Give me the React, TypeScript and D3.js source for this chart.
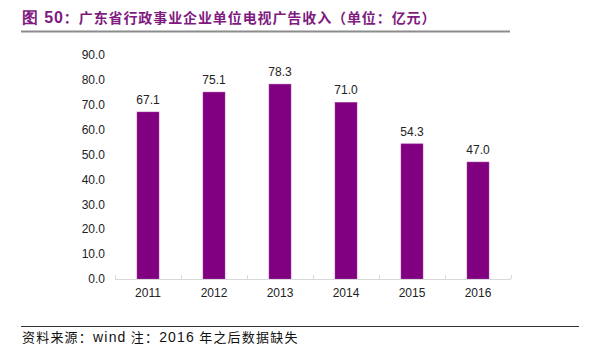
import React from "react";
import * as d3 from "d3";

const categories = ["2011", "2012", "2013", "2014", "2015", "2016"];
const values = [67.1, 75.1, 78.3, 71.0, 54.3, 47.0];
const yTicks = [0, 10, 20, 30, 40, 50, 60, 70, 80, 90];

const W = 593;
const H = 353;
const plot = { left: 115, right: 511, top: 55, bottom: 279 };
const purple = "#800080";

export default function App() {
  const x = d3.scaleBand<string>().domain(categories).range([plot.left, plot.right]).paddingInner(0).paddingOuter(0);
  const y = d3.scaleLinear().domain([0, 90]).range([plot.bottom, plot.top]);
  const barW = 22;
  const font = "Liberation Sans, Arial, sans-serif";
  const cjk = "'Noto Sans CJK SC', sans-serif";
  const boundaries = [...categories.map((c) => x(c) as number), plot.right];

  return (
    <svg width={W} height={H} style={{ position: "absolute", left: 0, top: 0 }}>
      <rect width={W} height={H} fill="#fff" />
      <text x={22} y={23} fontFamily={cjk} fontSize={14} fill="#7f1a7f" fontWeight="bold" letterSpacing={0.9}>
        <tspan fontFamily={font} fontSize={16} fontWeight="bold">图 50</tspan>
        {"：广东省行政事业企业单位电视广告收入（单位：亿元）"}
      </text>
      <line x1={21} x2={510} y1={31.5} y2={31.5} stroke="#8c8c8c" strokeWidth={2} />

      {yTicks.map((t) => (
        <text key={t} x={105} y={y(t)} dy="0.35em" textAnchor="end" fontFamily={font} fontSize={12} fill="#222">
          {t.toFixed(1)}
        </text>
      ))}

      {categories.map((c, i) => {
        const cx = (x(c) as number) + x.bandwidth() / 2;
        return (
          <g key={c}>
            <rect x={cx - barW / 2} y={y(values[i])} width={barW} height={y(0) - y(values[i])} fill={purple} stroke="#a040a0" strokeWidth={0.5} />
            <text x={cx} y={y(values[i]) - 8} textAnchor="middle" fontFamily={font} fontSize={12} fill="#222">
              {values[i].toFixed(1)}
            </text>
            <text x={cx} y={293} dy="0.35em" textAnchor="middle" fontFamily={font} fontSize={12} fill="#222">
              {c}
            </text>
          </g>
        );
      })}

      <line x1={plot.left} x2={plot.right} y1={plot.bottom + 0.5} y2={plot.bottom + 0.5} stroke="#d9d9d9" strokeWidth={1} />
      {boundaries.map((b, i) => (
        <line key={i} x1={b + 0.5} x2={b + 0.5} y1={plot.bottom - 4} y2={plot.bottom} stroke="#d9d9d9" strokeWidth={1} />
      ))}

      <line x1={21} x2={579} y1={326.5} y2={326.5} stroke="#333" strokeWidth={1} />
      <text x={22} y={342} fontFamily={cjk} fontSize={13} fill="#111" letterSpacing={1.2}>
        {"资料来源："}
        <tspan fontFamily={font} fontSize={14}>wind</tspan>
        {"  注："}
        <tspan fontFamily={font} fontSize={14}>2016</tspan>
        {" 年之后数据缺失"}
      </text>
    </svg>
  );
}
